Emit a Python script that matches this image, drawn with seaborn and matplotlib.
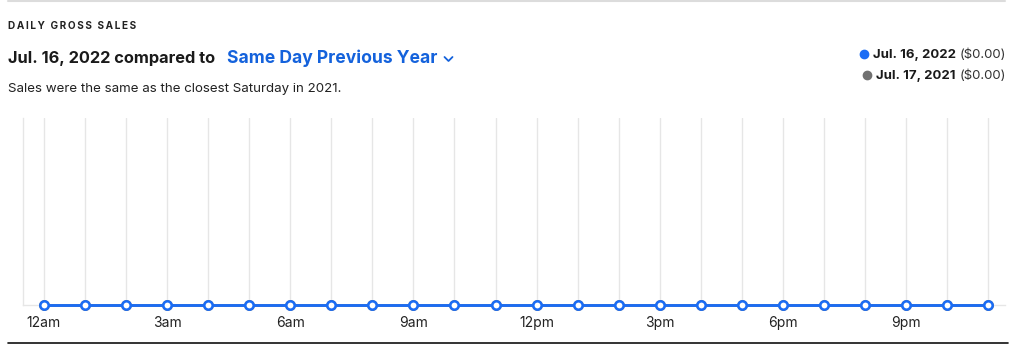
import matplotlib
matplotlib.use("Agg")
import matplotlib.pyplot as plt
import seaborn as sns
import pandas as pd
from matplotlib.lines import Line2D

sns.set_style("white")
plt.rcParams["font.family"] = ["Inter", "DejaVu Sans"]

# data
hours = list(range(24))
sales_2022 = [0, 0, 0, 0, 0, 0, 0, 0, 0, 0, 0, 0, 0, 0, 0, 0, 0, 0, 0, 0, 0, 0, 0, 0]
sales_2021 = [0, 0, 0, 0, 0, 0, 0, 0, 0, 0, 0, 0, 0, 0, 0, 0, 0, 0, 0, 0, 0, 0, 0, 0]
tick_hours = [0, 3, 6, 9, 12, 15, 18, 21]
tick_labels = ["12am", "3am", "6am", "9am", "12pm", "3pm", "6pm", "9pm"]
legend_dates = ["Jul. 16, 2022", "Jul. 17, 2021"]
legend_totals = ["($0.00)", "($0.00)"]

blue = "#1a6cf5"
link_blue = "#1462dc"
grey = "#717171"
W, H = 1021, 364


def fx(px):
    return px / W


def fy(py):
    return 1 - py / H


fig = plt.figure(figsize=(W / 100, H / 100), dpi=100)
ax = fig.add_axes([fx(23), fy(305), fx(1005) - fx(23), fy(118) - fy(305)])

df = pd.DataFrame({"hour": hours, "y2022": sales_2022, "y2021": sales_2021})
for col, c in [("y2021", grey), ("y2022", blue)]:
    sns.lineplot(data=df, x="hour", y=col, ax=ax, color=c, linewidth=2,
                 marker="o", markersize=6, markerfacecolor="white",
                 markeredgecolor=c, markeredgewidth=1.8, clip_on=False, zorder=3)

ax.set_xlim(-0.51, 23.41)
ax.set_ylim(0, 1)
for h in hours:
    ax.axvline(h, color="#e6e6e6", linewidth=1, zorder=0)
ax.set_xticks(tick_hours)
ax.set_xticklabels(tick_labels, fontsize=10, color="#222222")
ax.set_yticks([])
ax.tick_params(axis="x", length=0, pad=8)
ax.set_xlabel("")
ax.set_ylabel("")
for s in ["top", "right"]:
    ax.spines[s].set_visible(False)
for s in ["left", "bottom"]:
    ax.spines[s].set_color("#e6e6e6")
    ax.spines[s].set_linewidth(1)

# frame lines
fig.add_artist(Line2D([fx(8), fx(1005)], [fy(1), fy(1)], color="#dcdcdc", linewidth=1.5))
fig.add_artist(Line2D([fx(8), fx(1008)], [fy(343), fy(343)], color="#111111", linewidth=1.2))

# header texts
header = "DAILY GROSS SALES"
fig.text(fx(8), fy(26), "\u2009".join(header), fontsize=7.2, fontweight="bold",
         color="#222222", va="center", ha="left")
t1 = fig.text(fx(8), fy(58), "Jul. 16, 2022 compared to", fontsize=11.8,
              fontweight="bold", color="#1a1a1a", va="center", ha="left")
fig.canvas.draw()
b1 = t1.get_window_extent()
t2 = fig.text(b1.x1 / W + fx(12), fy(58), "Same Day Previous Year", fontsize=12.6,
              fontweight="bold", color=link_blue, va="center", ha="left")
fig.canvas.draw()
bb = t2.get_window_extent()
cx = bb.x1 + 11
fig.add_artist(Line2D([fx(cx - 4), fx(cx), fx(cx + 4)],
                      [fy(57), fy(61), fy(57)], color=link_blue, linewidth=1.3))
fig.text(fx(8), fy(89), "Sales were the same as the closest Saturday in 2021.",
         fontsize=9.6, color="#222222", va="center", ha="left")

# legend
for i, (d, tot, c) in enumerate(zip(legend_dates, legend_totals, [blue, grey])):
    ypx = 55 + i * 21
    tt = fig.text(fx(1006), fy(ypx), tot, fontsize=9.5, color="#333333",
                  va="center", ha="right")
    fig.canvas.draw()
    b = tt.get_window_extent()
    td = fig.text(b.x0 / W - fx(4), fy(ypx), d, fontsize=9.5, fontweight="bold",
                  color="#1a1a1a", va="center", ha="right")
    fig.canvas.draw()
    b2 = td.get_window_extent()
    fig.add_artist(Line2D([b2.x0 / W - fx(9)], [fy(ypx - 1)], marker="o", markersize=6,
                          color=c, linestyle="none"))

fig.savefig("out.png", dpi=100)
